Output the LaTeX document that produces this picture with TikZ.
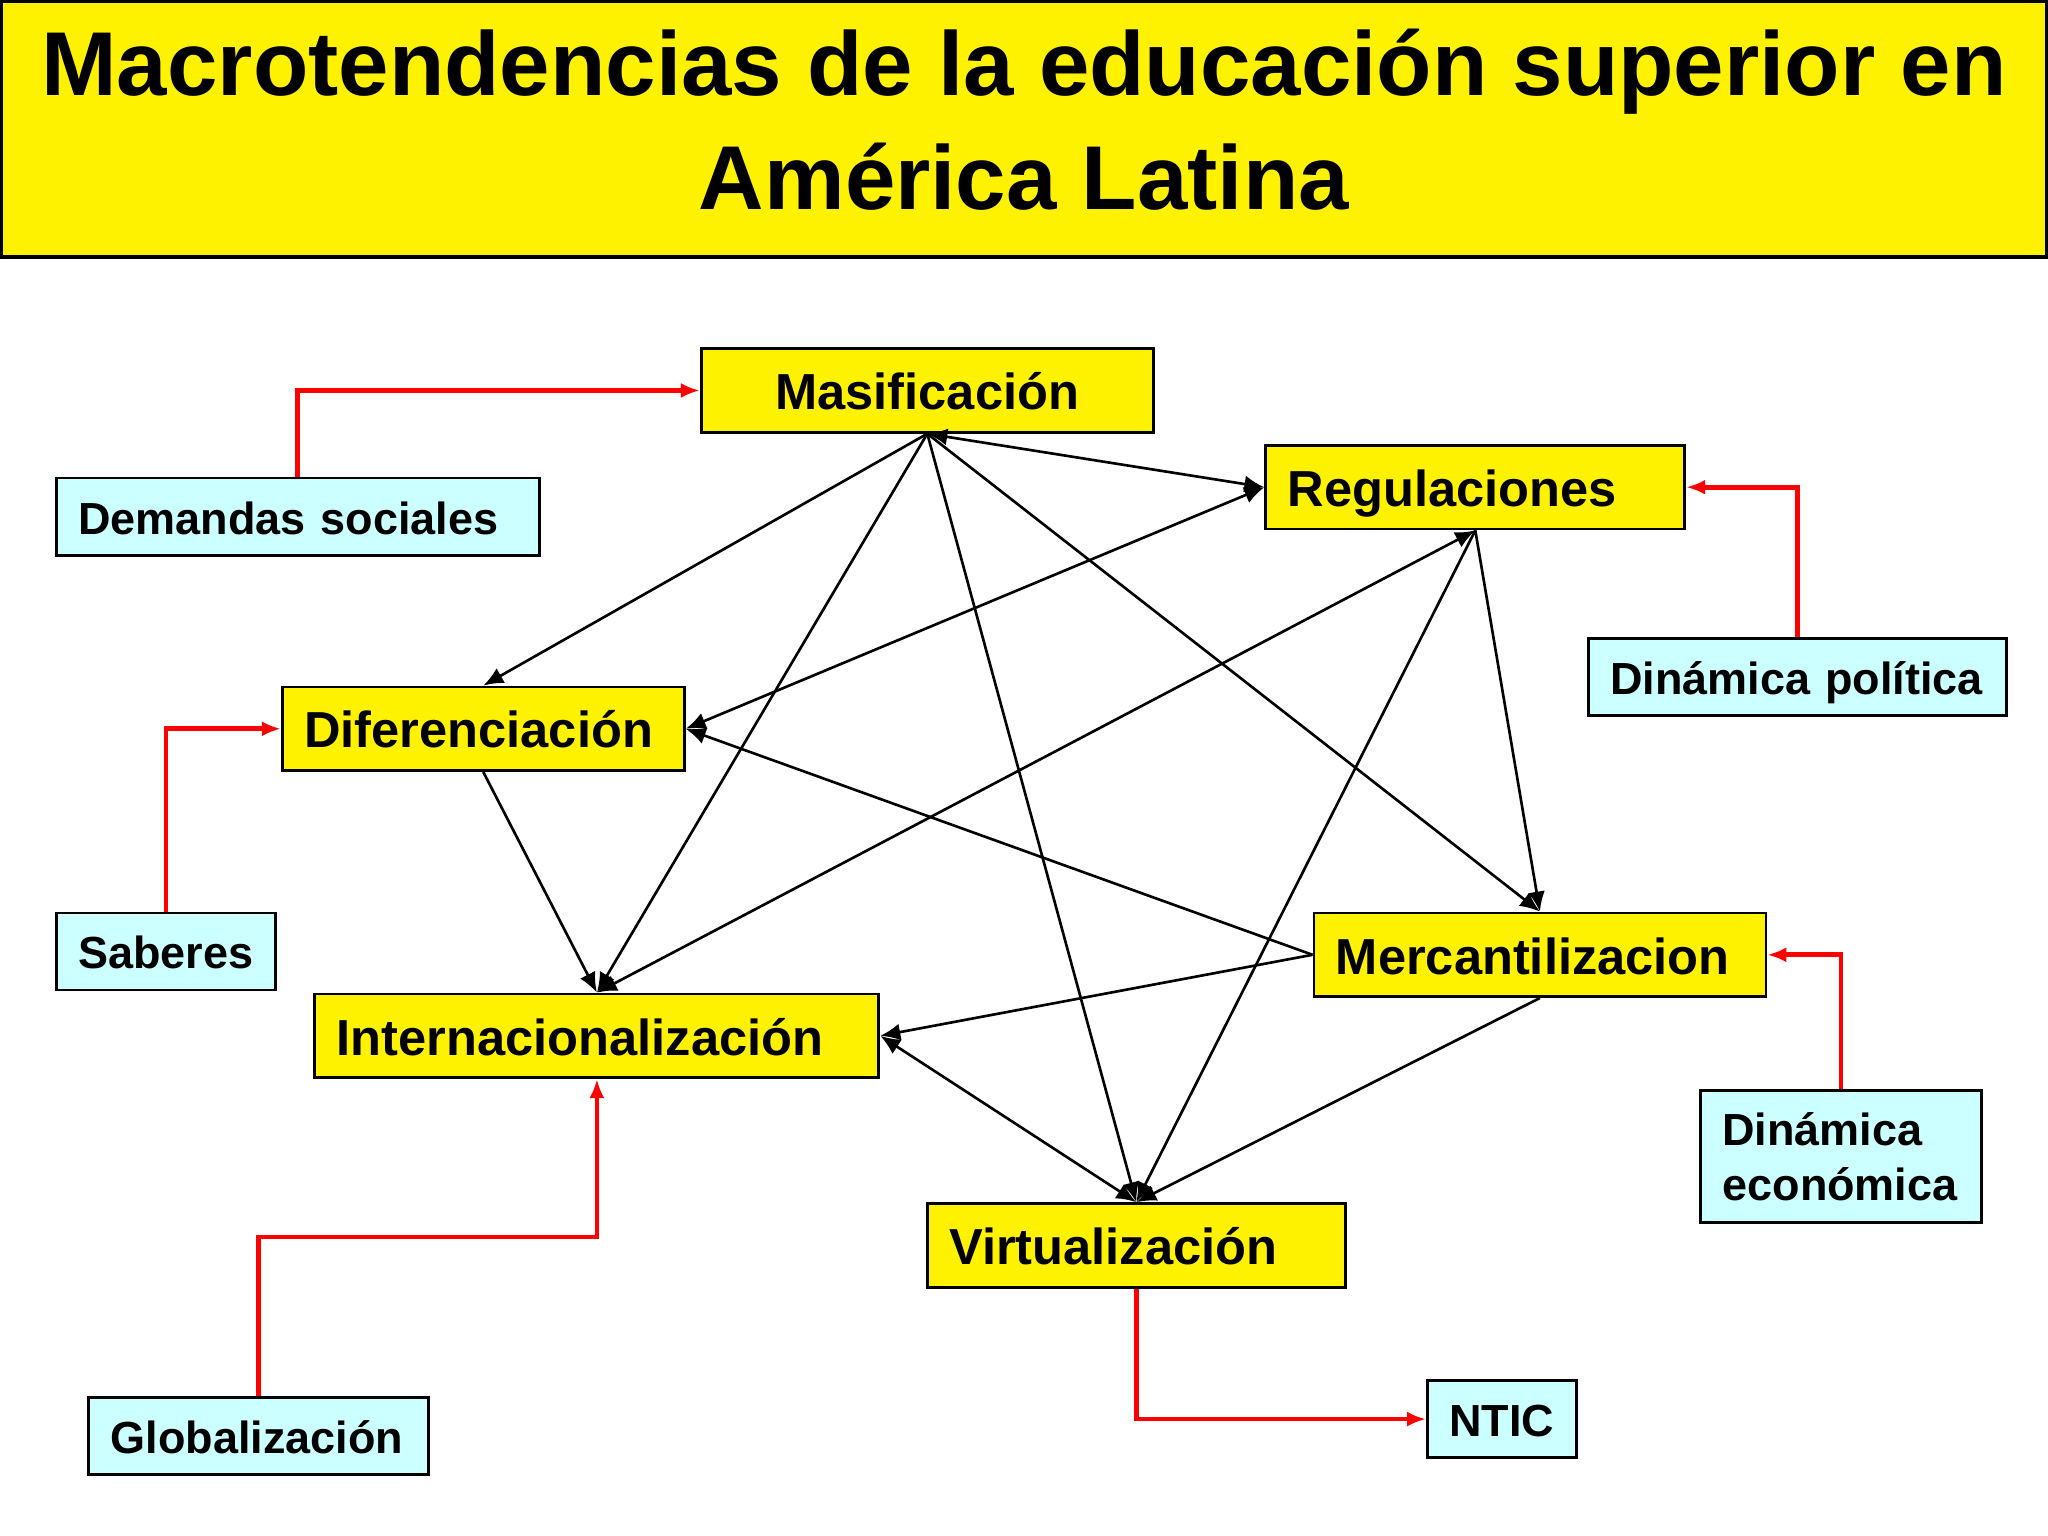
\documentclass[tikz,border=0pt]{standalone}
\usepackage{fontspec}
\setmainfont{Liberation Sans}
\usetikzlibrary{arrows.meta}
\definecolor{boxcyan}{HTML}{CCFFFF}

\begin{document}
\begin{tikzpicture}[
	trend/.style={draw, line width=0.8pt, fill=yellow, inner xsep=0.22cm, inner ysep=0pt,
		minimum height=0.836cm, text height=0.61cm, text depth=0.226cm, align=left,
		font=\fontsize{14.4}{17}\selectfont\bfseries},
	factor/.style={draw, line width=0.8pt, fill=boxcyan, inner xsep=0.22cm, inner ysep=0pt,
		minimum height=0.771cm, align=left, font=\fontsize{12.8}{15.6}\selectfont\bfseries},
	oneline/.style={text height=0.56cm, text depth=0.211cm},
	link/.style={line width=0.75pt, -{Latex[length=0.2cm,width=0.17cm]}},
	both/.style={line width=0.75pt, {Latex[length=0.2cm,width=0.17cm]}-{Latex[length=0.2cm,width=0.17cm]}},
	feed/.style={red, line width=1.35pt, -{Latex[length=0.19cm,width=0.15cm]}}
	]
			\useasboundingbox (0,0) rectangle (20.48,-15.36);
			% Titel
			\node[draw, line width=1pt, fill=yellow, minimum width=20.46cm, minimum height=2.56cm, align=center,
				font=\fontsize{25.8}{32.4}\selectfont\bfseries] (title) at (10.24,-1.29)
				{\raisebox{0.1cm}{}Macrotendencias de la educación superior en\\América Latina\vphantom{p}};
			% Tendencias
			\node[trend, text width=4.08cm, align=center] (mas) at (9.273,-3.905) {Masificación};
			\node[trend, text width=3.75cm] (reg) at (14.753,-4.872) {Regulaciones};
			\node[trend, text width=3.58cm] (dif) at (4.833,-7.288) {Diferenciación};
			\node[trend, text width=5.20cm] (int) at (5.969,-10.358) {Internacionalización};
			\node[trend, text width=4.08cm] (mer) at (15.399,-9.548) {Mercantilizacion};
			\node[trend, text width=3.74cm] (vir) at (11.363,-12.454) {Virtualización};
			% Factores
			\node[factor, oneline, text width=4.39cm] (dem) at (2.978,-5.166) {Demandas sociales};
			\node[factor, oneline, text width=3.74cm] (pol) at (17.972,-6.772) {Dinámica política};
			\node[factor, oneline, text width=1.75cm] (sab) at (1.659,-9.515) {Saberes};
			\node[factor, text width=2.37cm, minimum height=1.319cm] (eco) at (18.41,-11.566) {Dinámica\\económica};
			\node[factor, oneline, text width=2.96cm] (glo) at (2.586,-14.361) {Globalización};
			\node[factor, oneline, text width=1.05cm] (ntic) at (15.02,-14.191) {NTIC};
			% Relaciones
			\draw[link] (mas.south) -- (dif.north);
			\draw[link] (mas.south) -- (int.north);
			\draw[link] (mas.south) -- (vir.north);
			\draw[link] (mas.south) -- (mer.north);
			\draw[both] (mas.south) -- (reg.west);
			\draw[both] (dif.east) -- (reg.west);
			\draw[both] (int.north) -- (reg.south);
			\draw[link] (reg.south) -- (vir.north);
			\draw[link] (reg.south) -- (mer.north);
			\draw[link] (mer.west) -- (dif.east);
			\draw[link] (dif.south) -- (int.north);
			\draw[link] (mer.west) -- (int.east);
			\draw[both] (int.east) -- (vir.north);
			\draw[link] (mer.south) -- (vir.north);
			% Influencias
			\draw[feed] (dem.north) |- (mas.west);
			\draw[feed] (pol.north) |- (reg.east);
			\draw[feed] (sab.north) |- (dif.west);
			\draw[feed] (eco.north) |- (mer.east);
			\coordinate (gturn) at (2.586,-12.369);
			\draw[feed] (glo.north) -- (gturn) -| (int.south);
			\draw[feed] (vir.south) |- (ntic.west);
		\end{tikzpicture}
\end{document}
